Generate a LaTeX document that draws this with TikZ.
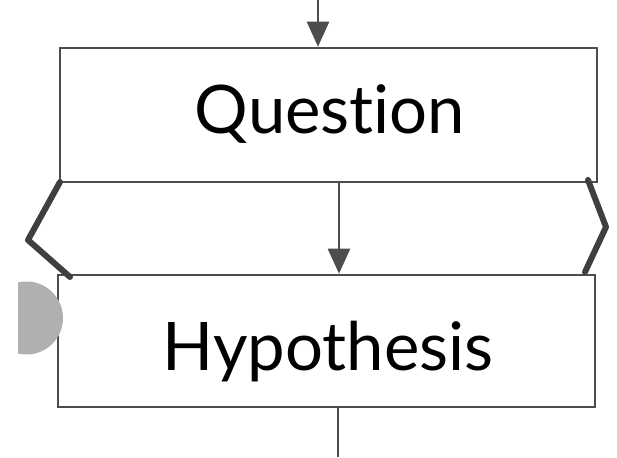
\documentclass[tikz,border=0pt]{standalone}
\usepackage{fontspec}
\newfontfamily\stepfont[Ligatures=NoCommon]{Lato}
\usetikzlibrary{arrows.meta}

\begin{document}
\begin{tikzpicture}[x=1pt, y=-1pt,
    stepbox/.style={draw=linegray, line width=2.6pt, minimum width=537pt,
        inner sep=0pt},
    steplabel/.style={font=\stepfont\fontsize{67}{67}\selectfont, anchor=base,
        inner sep=0pt},
    flow/.style={draw=linegray, line width=2.6pt,
        -{Triangle[length=25pt, width=22pt]}},
    wire/.style={draw=linegray, line width=2.6pt},
    chevron/.style={draw=chevgray, line width=6pt, line join=round, line cap=round}
]
\definecolor{linegray}{HTML}{4D4D4D}
\definecolor{chevgray}{HTML}{3F3F3F}
\useasboundingbox (0,0) rectangle (617,457);

\node[stepbox, minimum height=134pt] (question) at (328.5,115) {};
\node[stepbox, minimum height=132pt] (hypothesis) at (326.5,341) {};
\node[steplabel] (qtext) at (330,134) {Question};
\node[steplabel] (htext) at (328,370) {Hypothesis};

\coordinate (in) at (318,0);
\coordinate (out) at (338,457);

% arrows between the steps
\draw[flow] (in) -- (in |- question.north);
\draw[flow] ([xshift=10.5pt]question.south) -- ([xshift=12.5pt]hypothesis.north);
\draw[wire] (hypothesis.south -| out) -- (out);

% bent sides of the link
\draw[chevron] (60,182) -- (28,240) -- (70,277);
\draw[chevron] (588,180) -- (606,227) -- (585,272);

\fill[gray!62] (26.5,318) circle (36.5pt);
\fill[white] (0,270) rectangle (18,360);

\end{tikzpicture}
\end{document}
